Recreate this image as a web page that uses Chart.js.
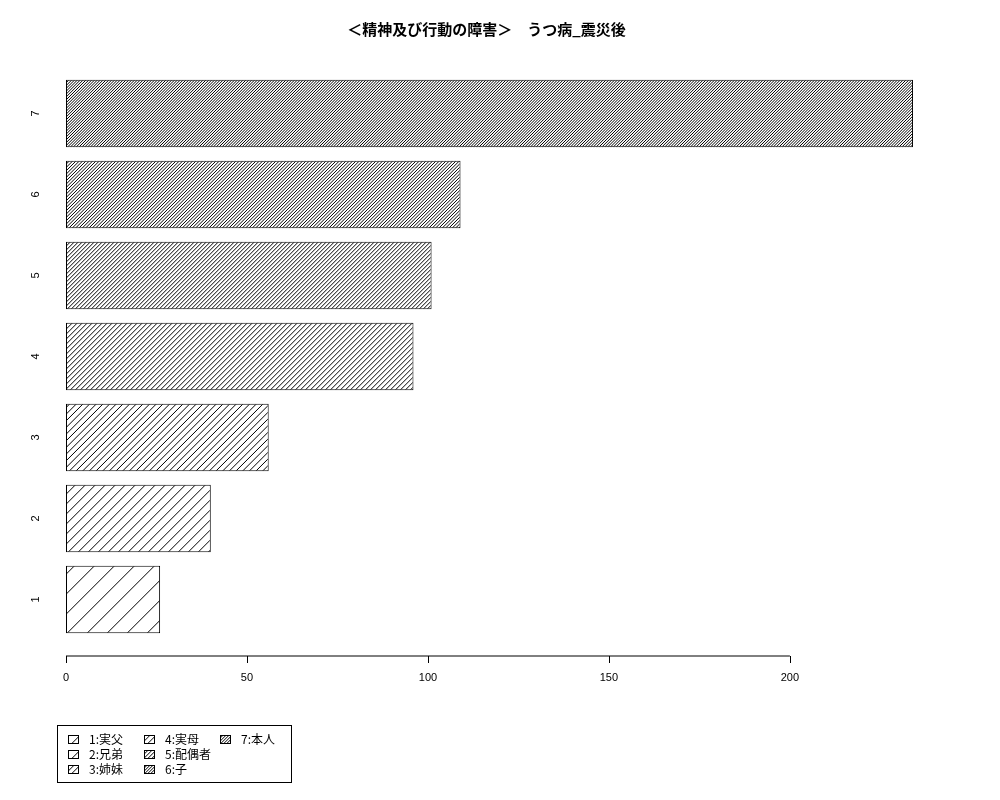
<!DOCTYPE html>
<html>
<head>
<meta charset="utf-8">
<script src="https://cdn.jsdelivr.net/npm/chart.js@4"></script>
<style>
  body { margin: 0; background: #fff; }
  #wrap { position: relative; width: 1000px; height: 800px; }
  #legend {
    position: absolute; left: 57px; top: 725px; width: 235px; height: 58px;
    border: 1px solid #000; box-sizing: border-box;
    font: 12px "Noto Sans CJK JP", "Liberation Sans", sans-serif; color: #000;
  }
  .item { position: absolute; height: 14px; line-height: 14px; white-space: nowrap; }
  .item canvas { position: absolute; left: 0; top: 3px; }
  .item span { position: absolute; left: 21px; top: 0; }
</style>
</head>
<body>
<div id="wrap">
  <canvas id="chart" width="1000" height="800"></canvas>
  <div id="legend"></div>
</div>
<script>
const titleText = '＜精神及び行動の障害＞　うつ病_震災後';
const categories = ['1', '2', '3', '4', '5', '6', '7'];
const values = [26, 40, 56, 96, 101, 109, 234];
const densities = [5, 10, 15, 20, 25, 30, 35];
const legendLabels = ['1:実父', '2:兄弟', '3:姉妹', '4:実母', '5:配偶者', '6:子', '7:本人'];
const xTicks = [0, 50, 100, 150, 200];

// hatch tile: 45 degree lines, spacing from R density (lines per inch at 72dpi)
function makeHatch(ctx, density, size) {
  const T = size || 60;
  const tile = document.createElement('canvas');
  tile.width = T;
  tile.height = T;
  const t = tile.getContext('2d');
  t.fillStyle = '#fff';
  t.fillRect(0, 0, T, T);
  const n = Math.max(1, Math.round(T / (72 * Math.SQRT2 / density)));
  const step = T / n;
  t.strokeStyle = '#000';
  t.lineWidth = 1;
  t.beginPath();
  for (let k = 0; k <= 2 * n; k++) {
    const c = k * step + 0.3;
    t.moveTo(c + 1, -1);
    t.lineTo(-1, c + 1);
  }
  t.stroke();
  return ctx.createPattern(tile, 'repeat');
}

const ctx = document.getElementById('chart').getContext('2d');
const patterns = densities.map((d) => makeHatch(ctx, d));

const xAxisLine = {
  id: 'xAxisLine',
  afterDraw(chart) {
    const xs = chart.scales.x;
    const y0 = chart.chartArea.bottom + 16;
    const c = chart.ctx;
    c.save();
    c.strokeStyle = '#000';
    c.lineWidth = 1;
    c.beginPath();
    c.moveTo(xs.getPixelForValue(xTicks[0]), y0);
    c.lineTo(xs.getPixelForValue(xTicks[xTicks.length - 1]), y0);
    xTicks.forEach((v) => {
      const px = Math.round(xs.getPixelForValue(v)) + 0.5;
      c.moveTo(px, y0);
      c.lineTo(px, y0 + 7);
    });
    c.stroke();
    c.restore();
  }
};

new Chart(ctx, {
  type: 'bar',
  data: {
    labels: categories,
    datasets: [{
      data: values,
      backgroundColor: patterns,
      borderColor: '#000',
      borderWidth: 1,
      borderSkipped: false,
      barPercentage: 1 / 1.2,
      categoryPercentage: 1
    }]
  },
  options: {
    indexAxis: 'y',
    responsive: false,
    animation: false,
    layout: {
      padding: { left: 26, right: 53, top: 0, bottom: 100 }
    },
    plugins: {
      legend: { display: false },
      tooltip: { enabled: false },
      title: {
        display: true,
        text: titleText,
        color: '#000',
        font: { family: '"Noto Sans CJK JP"', size: 15, weight: 'bold' },
        padding: { top: 20, bottom: 35 }
      }
    },
    scales: {
      y: {
        type: 'category',
        reverse: true,
        grid: { display: false, drawTicks: false },
        border: { display: false },
        afterFit: (scale) => { scale.width = 40; },
        ticks: {
          color: '#000',
          font: { family: '"Liberation Sans"', size: 11 },
          minRotation: 90,
          maxRotation: 90,
          crossAlign: 'center',
          padding: 27
        }
      },
      x: {
        min: 0,
        max: 243.4,
        grid: { display: false, drawTicks: false },
        border: { display: false },
        afterFit: (scale) => { scale.height = 60; },
        afterBuildTicks: (scale) => { scale.ticks = xTicks.map((v) => ({ value: v })); },
        ticks: {
          color: '#000',
          font: { family: '"Liberation Sans"', size: 11 },
          padding: 31,
          maxRotation: 0
        }
      }
    }
  },
  plugins: [xAxisLine]
});

// legend, filled column by column like R's legend(ncol = 3)
const legendEl = document.getElementById('legend');
legendLabels.forEach((label, i) => {
  const item = document.createElement('div');
  item.className = 'item';
  item.style.left = (10 + Math.floor(i / 3) * 76) + 'px';
  item.style.top = (6 + (i % 3) * 15) + 'px';
  const sw = document.createElement('canvas');
  sw.width = 11;
  sw.height = 9;
  const s = sw.getContext('2d');
  s.fillStyle = makeHatch(s, densities[i], 12);
  s.fillRect(0, 0, 11, 9);
  s.strokeStyle = '#000';
  s.strokeRect(0.5, 0.5, 10, 8);
  const txt = document.createElement('span');
  txt.textContent = label;
  item.appendChild(sw);
  item.appendChild(txt);
  legendEl.appendChild(item);
});
</script>
</body>
</html>
